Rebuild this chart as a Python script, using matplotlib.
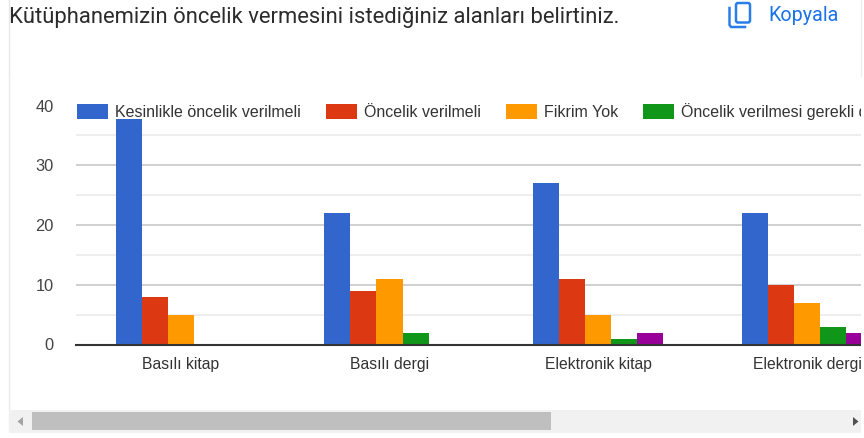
import matplotlib
matplotlib.use('Agg')
import matplotlib.pyplot as plt
import numpy as np
from matplotlib.patches import Rectangle, Polygon, FancyBboxPatch
from matplotlib.lines import Line2D
from matplotlib.transforms import Affine2D

W, H = 864, 438

title = 'Kütüphanemizin öncelik vermesini istediğiniz alanları belirtiniz.'
categories = ['Basılı kitap', 'Basılı dergi', 'Elektronik kitap', 'Elektronik dergi']
series_names = ['Kesinlikle öncelik verilmeli', 'Öncelik verilmeli', 'Fikrim Yok',
                'Öncelik verilmesi gerekli değil', 'Kesinlikle öncelik verilmemeli']
colors = ['#3366cc', '#dc3912', '#ff9900', '#109618', '#990099']
kesinlikle = [38, 22, 27, 22]
oncelik = [8, 9, 11, 10]
fikrim_yok = [5, 11, 5, 7]
gerekli_degil = [0, 2, 1, 3]
verilmemeli = [0, 0, 2, 2]
values = [kesinlikle, oncelik, fikrim_yok, gerekli_degil, verilmemeli]

plt.rcParams['font.family'] = ['Liberation Sans', 'DejaVu Sans']

fig = plt.figure(figsize=(W / 100, H / 100), dpi=100, facecolor='white')
px = Affine2D().scale(1 / W, -1 / H).translate(0, 1) + fig.transFigure

# plot area, in pixels of the picture
ax = fig.add_axes([76 / W, 1 - 344.5 / H, (861 - 76) / W, (344.5 - 105.5) / H])
ax.set_facecolor('none')
for s in ax.spines.values():
    s.set_visible(False)

x = np.arange(len(categories))
bw = 0.125
for i, (vals, name, c) in enumerate(zip(values, series_names, colors)):
    ax.bar(x + (i - 2) * bw, vals, bw, color=c, label=name, linewidth=0, zorder=3)

ax.set_xlim(-0.502, 3.259)
ax.set_ylim(0, 40)
ax.set_yticks([0, 10, 20, 30, 40])
ax.set_yticks([5, 15, 25, 35], minor=True)
ax.set_xticks(x, categories)
ax.tick_params(axis='both', which='both', length=0)
ax.tick_params(axis='y', labelsize=11.8, labelcolor='#444444', pad=16)
ax.tick_params(axis='x', labelsize=11.3, labelcolor='#333333', pad=9)
ax.grid(True, axis='y', which='major', color='#c8c8c8', lw=1.2, zorder=1)
ax.grid(True, axis='y', which='minor', color='#ebebeb', lw=1.2, zorder=1)
ax.set_axisbelow(True)
ax.axhline(0, color='#333333', lw=1.5, zorder=4, clip_on=False)

# white band the legend leaves behind it
ax.axhspan(37.7, 39.6, color='white', lw=0, zorder=5)

fs = 11.55
fs_px = fs * 100 / 72
leg = ax.legend(loc='upper left', bbox_to_anchor=(77 / W, 1 - 103 / H),
                bbox_transform=fig.transFigure, ncol=5, frameon=False, fontsize=fs,
                borderpad=0, borderaxespad=0, handlelength=31 / fs_px,
                handleheight=16 / fs_px, handletextpad=7 / fs_px,
                columnspacing=25 / fs_px, labelcolor='#333333')
leg.set_zorder(6)

# page text around the chart
fig.text(9 / W, 1 - 17.5 / H, title, family='Roboto', fontsize=15.8, color='#2b2b2b',
         ha='left', va='center')
fig.text(768 / W, 1 - 15.5 / H, 'Kopyala', family='Roboto', fontsize=14.2, color='#1a73e8',
         ha='left', va='center')

# mask on the right and scroll bar
fig.add_artist(Rectangle((861, 0), 3, H, transform=px, fc='white', ec='none', zorder=10))
fig.add_artist(Line2D([9, 9], [0, 76], transform=px, color='#e8e8e8', lw=1, zorder=10))
fig.add_artist(Line2D([8.5, 8.5], [76, 430], transform=px, color='#ebebeb', lw=1, zorder=10))
fig.add_artist(Line2D([860.5, 860.5], [0, 76], transform=px, color='#eeeeee', lw=1, zorder=11))
fig.add_artist(Rectangle((9, 410), 852, 23, transform=px, fc='#f1f1f1', ec='none', zorder=10))
fig.add_artist(Rectangle((32, 412), 519, 18, transform=px, fc='#bfbfbf', ec='none', zorder=11))
fig.add_artist(Polygon([[17.5, 421.5], [23, 417], [23, 426]], transform=px, fc='#a3a3a3',
                       ec='none', zorder=11))
fig.add_artist(Polygon([[853, 417], [853, 426], [858.5, 421.5]], transform=px, fc='#505050',
                       ec='none', zorder=11))

# copy icon
fig.add_artist(FancyBboxPatch((736, 3), 14, 19.5, boxstyle='round,pad=0,rounding_size=2', transform=px,
                              fc='none', ec='#2a7de9', lw=1.8, zorder=11))
fig.add_artist(Line2D([729.5, 729.5, 731, 745], [8, 25, 27, 27], transform=px, color='#2a7de9',
                      lw=1.8, zorder=11))

fig.savefig('out.png', dpi=100)
